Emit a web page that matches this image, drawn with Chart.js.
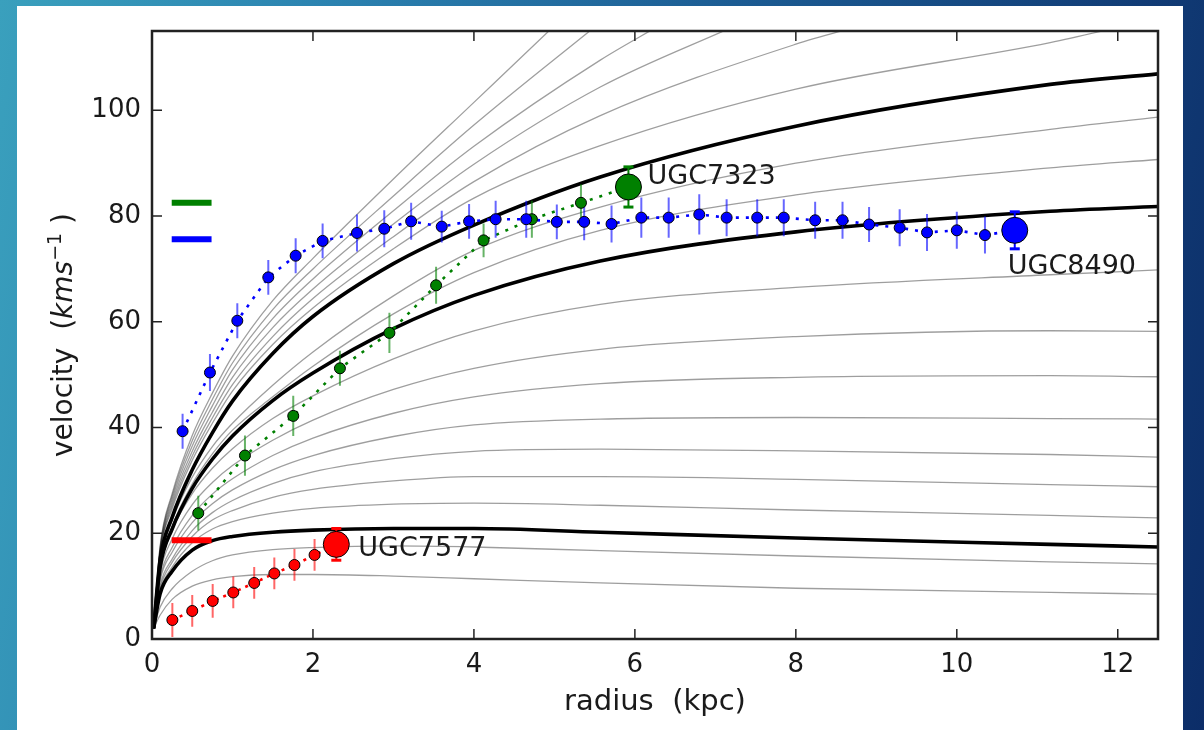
<!DOCTYPE html>
<html lang="en">
<head>
<meta charset="UTF-8">
<title>Rotation curves</title>
<script src="https://cdn.jsdelivr.net/npm/chart.js"></script>
<style>
  html, body { margin: 0; padding: 0; }
  body {
    width: 1204px; height: 730px; overflow: hidden; position: relative;
    background: linear-gradient(100deg, #3aa0bd 0%, #2b82b0 25%, #1c5c93 55%, #0c2d68 100%);
  }
  #panel { position: absolute; left: 17px; top: 6px; width: 1166px; height: 724px; background: #fff; }
  #chart { position: absolute; left: 0; top: 0; }
</style>
</head>
<body>
<div id="panel"></div>
<canvas id="chart" width="1204" height="730"></canvas>
<script>
// ---- model curves: radius grid (kpc) and velocities (km/s) ----
const modelRadius = [0.02, 0.1, 0.25, 0.5, 0.75, 1, 1.5, 2, 3, 4, 5.57, 8, 11.16, 12.5];

const grayCurves = [
  [2, 4.5, 7.5, 10.0, 11.2, 11.8, 12.2, 12.2, 11.9, 11.4, 10.6, 9.6, 8.8, 8.5],
  [2, 6.0, 9.5, 12.8, 14.8, 15.9, 16.9, 17.3, 17.6, 17.4, 16.7, 15.7, 14.6, 14.2],
  [2, 9.0, 13.6, 18.2, 20.8, 22.2, 23.8, 24.7, 25.5, 25.7, 25.3, 24.4, 23.4, 22.9],
  [2, 9.5, 14.5, 19.4, 22.5, 24.3, 26.8, 28.3, 29.9, 30.7, 30.7, 30.2, 29.2, 28.8],
  [2, 10.1, 15.1, 20.5, 23.9, 26.2, 29.4, 31.6, 34.1, 35.5, 35.9, 35.6, 34.9, 34.4],
  [2, 11.0, 16.4, 22.0, 25.6, 28.2, 32.0, 34.7, 38.3, 40.5, 41.6, 41.9, 41.7, 41.6],
  [2, 11.5, 17.3, 23.4, 27.4, 30.3, 34.7, 38.0, 42.7, 45.8, 48.3, 49.5, 49.8, 49.6],
  [2, 12.3, 18.9, 25.4, 29.6, 32.8, 37.6, 41.4, 47.2, 51.2, 54.8, 57.2, 58.3, 58.2],
  [2, 13.0, 20.5, 27.5, 32.3, 36.0, 41.7, 46.0, 53.0, 58.3, 63.3, 66.5, 68.9, 69.8],
  [2, 13.8, 21.3, 29.3, 35.0, 39.5, 45.8, 51.6, 61.5, 69.3, 77.3, 84.0, 89.1, 90.7],
  [2, 14.2, 22.4, 30.6, 36.4, 40.8, 48.0, 54.3, 64.9, 73.5, 81.7, 90.0, 96.4, 98.7],
  [2, 16.0, 24.6, 33.8, 40.8, 46.9, 55.7, 62.6, 73.8, 83.4, 93.3, 104.0, 112.8, null],
  [2, 16.3, 25.2, 34.6, 41.8, 48.1, 57.2, 64.4, 76.1, 86.5, 99.0, 112.5, null, null],
  [2, 16.6, 25.8, 35.5, 42.9, 49.5, 58.9, 66.2, 78.5, 89.8, 104.4, null, null, null],
  [2, 16.9, 26.4, 36.5, 44.1, 50.9, 60.6, 68.1, 81.0, 93.2, 109.5, null, null, null],
  [2, 17.2, 27.0, 37.5, 45.3, 52.2, 62.3, 70.0, 83.8, 97.2, null, null, null, null],
  [2, 17.5, 27.5, 38.5, 46.5, 53.5, 64.0, 72.0, 87.0, 101.5, null, null, null, null]
];
// radius where a gray curve leaves through the top of the frame (null = stays inside)
const grayExitRadius = [null, null, null, null, null, null, null, null, null, null, null, 12.1, 8.8, 7.25, 6.3, 5.52, 5.0];

const blackCurves = [
  [2, 8.5, 12.8, 16.8, 18.6, 19.4, 20.2, 20.6, 20.9, 20.9, 20.2, 19.1, 17.9, 17.4],
  [2, 13.5, 20.8, 28.5, 34.0, 38.4, 45.1, 50.3, 58.7, 65.0, 71.5, 77.0, 80.9, 81.8],
  [2, 14.9, 23.0, 32.0, 39.0, 45.0, 54.0, 61.0, 71.0, 78.3, 87.4, 97.0, 104.9, 106.9]
];

// ---- galaxy data ----
const blueRadius = [0.38, 0.72, 1.06, 1.445, 1.785, 2.12, 2.547, 2.886, 3.22, 3.60, 3.94, 4.27, 4.65, 5.03, 5.37,
                    5.71, 6.08, 6.42, 6.80, 7.14, 7.52, 7.85, 8.24, 8.58, 8.91, 9.29, 9.63, 10.00, 10.35];
const blueVel = [39.3, 50.4, 60.2, 68.4, 72.5, 75.3, 76.8, 77.6, 79.0, 78.0, 79.0, 79.4, 79.4, 78.9, 78.9,
                 78.5, 79.7, 79.7, 80.3, 79.7, 79.7, 79.7, 79.2, 79.2, 78.4, 77.8, 76.9, 77.3, 76.4];
const blueErr = [3.3, 3.5, 3.3, 3.3, 3.3, 3.3, 3.5, 3.5, 3.5, 3.0, 3.3, 3.5, 3.5, 3.3, 3.5,
                 3.5, 3.8, 3.8, 3.8, 3.5, 3.5, 3.5, 3.5, 3.5, 3.3, 3.5, 3.5, 3.5, 3.5];
const blueBig = [10.72, 77.3, 3.5];

const greenRadius = [0.575, 1.155, 1.755, 2.335, 2.95, 3.53, 4.12, 4.72, 5.33];
const greenVel = [23.8, 34.7, 42.2, 51.2, 57.9, 66.9, 75.4, 79.4, 82.5];
const greenErr = [3.3, 3.8, 3.8, 3.3, 3.8, 3.5, 3.2, 3.5, 3.5];
const greenBig = [5.92, 85.5, 3.8];

const redRadius = [0.253, 0.50, 0.754, 1.01, 1.27, 1.52, 1.77, 2.02];
const redVel = [3.6, 5.3, 7.2, 8.8, 10.6, 12.4, 14.0, 15.9];
const redErr = [3.2, 3.0, 3.2, 3.0, 3.0, 3.0, 3.0, 3.0];
const redBig = [2.29, 17.9, 3.0];

// short flat markers at the left
const markRadius = [0.245, 0.74];
const markVel = { green: 82.5, blue: 75.6, red: 18.7 };

const galaxyNames = ['UGC7323', 'UGC8490', 'UGC7577'];

const xTicks = [0, 2, 4, 6, 8, 10, 12];
const yTicks = [0, 20, 40, 60, 80, 100];

const BLUE = '#0000ff', GREEN = '#008000', RED = '#ff0000';

function curvePoints(vals, exitR) {
  const pts = [];
  vals.forEach((v, i) => { if (v !== null) pts.push({ x: modelRadius[i], y: v }); });
  if (exitR) pts.push({ x: exitR, y: 116 });
  return pts;
}
function seriesPoints(rs, vs) {
  return rs.map((r, i) => ({ x: r, y: vs[i] }));
}
function errorPoints(rs, vs, es) {
  const pts = [];
  rs.forEach((r, i) => {
    pts.push({ x: r, y: vs[i] - es[i] }, { x: r, y: vs[i] + es[i] }, { x: r, y: null });
  });
  return pts;
}

const datasets = [];

grayCurves.forEach((c, i) => datasets.push({
  data: curvePoints(c, grayExitRadius[i]), showLine: true, pointRadius: 0,
  borderColor: 'rgba(0,0,0,0.38)', borderWidth: 1.3, cubicInterpolationMode: 'monotone', order: 9
}));
blackCurves.forEach(c => datasets.push({
  data: curvePoints(c, null), showLine: true, pointRadius: 0,
  borderColor: '#000', borderWidth: 3.6, cubicInterpolationMode: 'monotone', order: 8
}));

[[markVel.green, GREEN], [markVel.blue, BLUE], [markVel.red, RED]].forEach(([v, col]) => datasets.push({
  data: markRadius.map(r => ({ x: r, y: v })), showLine: true, pointRadius: 0,
  borderColor: col, borderWidth: 6, borderCapStyle: 'butt', order: 7
}));

const galaxies = [
  [blueRadius, blueVel, blueErr, blueBig, BLUE, 'rgba(0,0,255,0.6)', [3, 7]],
  [greenRadius, greenVel, greenErr, greenBig, GREEN, 'rgba(0,128,0,0.6)', [3, 7]],
  [redRadius, redVel, redErr, redBig, RED, 'rgba(255,0,0,0.6)', [3, 5]]
];
galaxies.forEach(([rs, vs, es, big, col, errCol, dash]) => {
  datasets.push({
    data: seriesPoints(rs.concat([big[0]]), vs.concat([big[1]])), showLine: true, pointRadius: 0,
    borderColor: col, borderWidth: 2.6, borderDash: dash, order: 6
  });
  datasets.push({
    data: errorPoints(rs, vs, es), showLine: true, spanGaps: false, pointRadius: 0,
    borderColor: errCol, borderWidth: 2, order: 5
  });
  datasets.push({
    data: errorPoints([big[0]], [big[1]], [big[2]]), showLine: true, spanGaps: false,
    borderColor: col, borderWidth: 2, pointStyle: 'line', pointRadius: 5,
    pointBorderColor: col, pointBorderWidth: 3, order: 4
  });
  datasets.push({
    data: seriesPoints(rs, vs), pointRadius: 5.5, pointBackgroundColor: col,
    pointBorderColor: '#000', pointBorderWidth: 1, order: 3
  });
  datasets.push({
    data: [{ x: big[0], y: big[1] }], pointRadius: 13, pointBackgroundColor: col,
    pointBorderColor: '#000', pointBorderWidth: 1, order: 2
  });
});

const TEXT = '#1a1a1a';
const FONT = '"DejaVu Sans", sans-serif';

const overlay = {
  id: 'overlay',
  afterDatasetsDraw(chart) {
    const { ctx, chartArea: a, scales: { x, y } } = chart;
    ctx.save();
    // name labels next to the big points
    ctx.fillStyle = TEXT;
    ctx.font = '27px ' + FONT;
    ctx.textBaseline = 'middle';
    ctx.textAlign = 'left';
    ctx.fillText(galaxyNames[0], x.getPixelForValue(greenBig[0]) + 19, y.getPixelForValue(greenBig[1]) - 10);
    ctx.fillText(galaxyNames[1], x.getPixelForValue(blueBig[0]) - 7, y.getPixelForValue(blueBig[1]) + 37);
    ctx.fillText(galaxyNames[2], x.getPixelForValue(redBig[0]) + 22, y.getPixelForValue(redBig[1]) + 5);

    // frame and inward ticks
    ctx.strokeStyle = '#222';
    ctx.lineWidth = 2.5;
    ctx.strokeRect(a.left, a.top, a.right - a.left, a.bottom - a.top);
    ctx.lineWidth = 1.5;
    ctx.beginPath();
    xTicks.forEach(t => {
      const px = x.getPixelForValue(t);
      ctx.moveTo(px, a.bottom); ctx.lineTo(px, a.bottom - 10);
      ctx.moveTo(px, a.top); ctx.lineTo(px, a.top + 10);
    });
    yTicks.forEach(t => {
      const py = y.getPixelForValue(t);
      ctx.moveTo(a.left, py); ctx.lineTo(a.left + 10, py);
      ctx.moveTo(a.right, py); ctx.lineTo(a.right - 10, py);
    });
    ctx.stroke();

    // axis titles
    ctx.fillStyle = TEXT;
    ctx.font = '29px ' + FONT;
    ctx.textAlign = 'center';
    ctx.textBaseline = 'alphabetic';
    ctx.fillText('radius  (kpc)', (a.left + a.right) / 2, a.bottom + 71);

    const parts = [
      ['velocity  (', '28px ' + FONT, 0],
      ['kms', 'italic 28px ' + FONT, 0],
      ['\u22121', '19px ' + FONT, -11],
      [' )', '28px ' + FONT, 0]
    ];
    let total = 0;
    parts.forEach(p => { ctx.font = p[1]; total += ctx.measureText(p[0]).width; });
    ctx.translate(72, (a.top + a.bottom) / 2);
    ctx.rotate(-Math.PI / 2);
    ctx.textAlign = 'left';
    let cx = -total / 2;
    parts.forEach(p => {
      ctx.font = p[1];
      ctx.fillText(p[0], cx, p[2]);
      cx += ctx.measureText(p[0]).width;
    });
    ctx.restore();
  }
};

Chart.defaults.font.family = FONT;

new Chart(document.getElementById('chart'), {
  type: 'scatter',
  data: { datasets },
  options: {
    responsive: false,
    animation: false,
    devicePixelRatio: 1,
    events: [],
    layout: { padding: { top: 31, right: 46, left: 0, bottom: 0 } },
    plugins: { legend: { display: false }, tooltip: { enabled: false } },
    scales: {
      x: {
        type: 'linear', min: 0, max: 12.5,
        afterFit: s => { s.height = 91; },
        afterBuildTicks: s => { s.ticks = xTicks.map(v => ({ value: v })); },
        grid: { display: false, drawTicks: false },
        border: { display: false },
        ticks: { font: { size: 26 }, color: TEXT, padding: 11, maxRotation: 0, autoSkip: false }
      },
      y: {
        type: 'linear', min: 0, max: 115,
        afterFit: s => { s.width = 152; },
        afterBuildTicks: s => { s.ticks = yTicks.map(v => ({ value: v })); },
        grid: { display: false, drawTicks: false },
        border: { display: false },
        ticks: { font: { size: 26 }, color: TEXT, padding: 11, autoSkip: false }
      }
    }
  },
  plugins: [overlay]
});
</script>
</body>
</html>
